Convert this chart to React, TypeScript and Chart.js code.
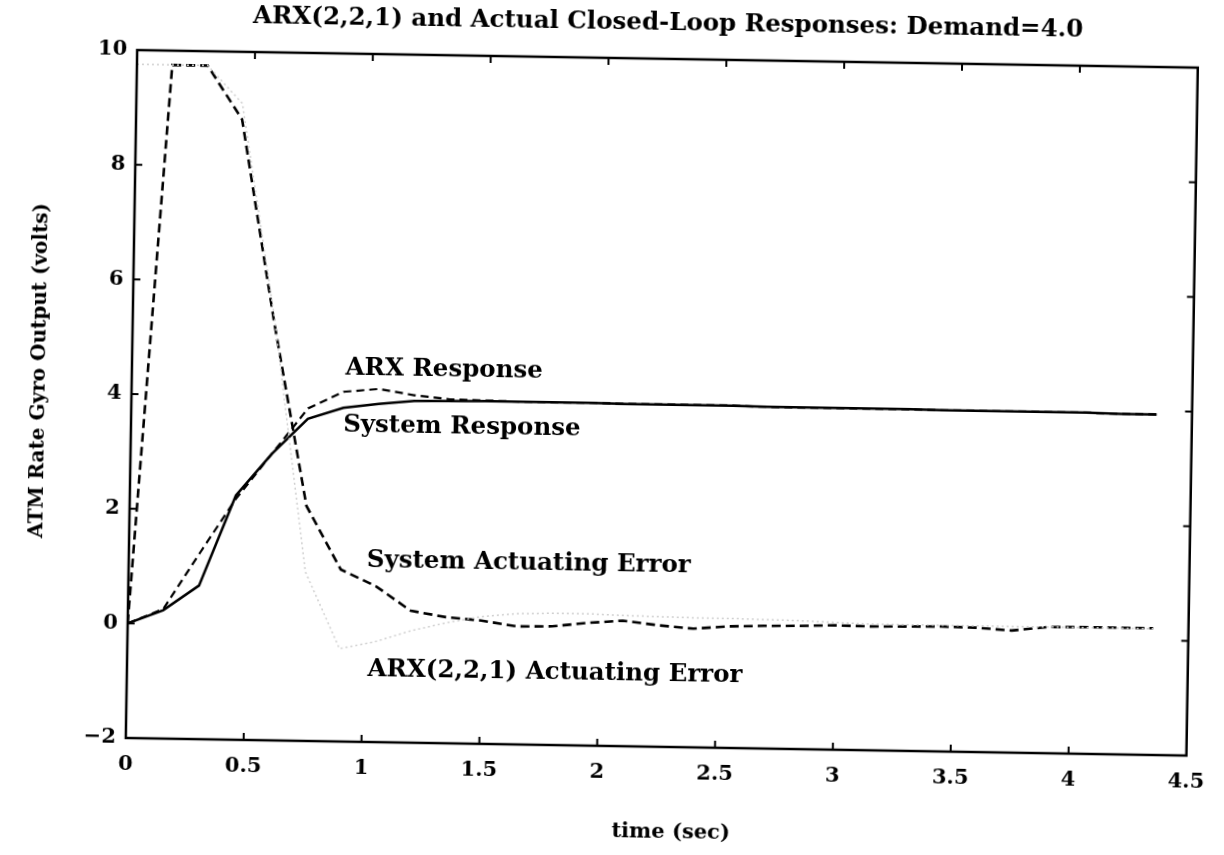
import React, { useEffect, useRef } from 'react';
import { Chart, registerables } from 'chart.js';

Chart.register(...registerables);

// ---- data ----
const time = [0, 0.15, 0.3, 0.45, 0.6, 0.75, 0.9, 1.05, 1.2, 1.35, 1.5, 1.65, 1.8, 1.95, 2.1, 2.25, 2.4, 2.55, 2.7, 2.85, 3.0, 3.15, 3.3, 3.45, 3.6, 3.75, 3.9, 4.05, 4.2, 4.35];

const systemResponse = [0, 0.24, 0.68, 2.26, 3.0, 3.62, 3.82, 3.9, 3.96, 3.97, 3.98, 3.98, 3.98, 3.98, 3.97, 3.97, 3.97, 3.97, 3.96, 3.96, 3.96, 3.96, 3.96, 3.95, 3.95, 3.95, 3.95, 3.95, 3.94, 3.94];

const arxResponse = [0, 0.26, 1.24, 2.2, 3.0, 3.8, 4.1, 4.16, 4.06, 4.0, 3.99, 3.98, 3.98, 3.98, 3.97, 3.97, 3.97, 3.97, 3.96, 3.96, 3.96, 3.96, 3.96, 3.95, 3.95, 3.95, 3.95, 3.95, 3.94, 3.94];

const systemError = [0, 9.75, 9.75, 8.82, 5.3, 2.1, 1.0, 0.72, 0.3, 0.2, 0.15, 0.06, 0.07, 0.14, 0.19, 0.12, 0.07, 0.12, 0.14, 0.15, 0.17, 0.16, 0.17, 0.18, 0.17, 0.13, 0.2, 0.21, 0.21, 0.21];

const arxError = [9.75, 9.75, 9.75, 9.1, 5.4, 0.95, -0.38, -0.25, -0.05, 0.1, 0.22, 0.28, 0.3, 0.3, 0.28, 0.27, 0.26, 0.26, 0.25, 0.24, 0.22, 0.2, 0.2, 0.2, 0.2, 0.2, 0.2, 0.2, 0.2, 0.2];

const xTickValues = [0, 0.5, 1, 1.5, 2, 2.5, 3, 3.5, 4, 4.5];
const yTickValues = [-2, 0, 2, 4, 6, 8, 10];

const seriesNames = ['ARX(2,2,1) Actuating Error', 'System Actuating Error', 'ARX Response', 'System Response'];

const titleText = 'ARX(2,2,1) and Actual Closed-Loop Responses: Demand=4.0';
const xTitleText = 'time (sec)';
const yTitleText = 'ATM Rate Gyro Output (volts)';

// in-plot labels (text) and their anchor points (data coordinates, left-middle)
const labelTexts = ['ARX Response', 'System Response', 'System Actuating Error', 'ARX(2,2,1) Actuating Error'];
const labelAnchors = [
  { x: 0.906, y: 4.52 },
  { x: 0.9, y: 3.51 },
  { x: 1.01, y: 1.17 },
  { x: 1.02, y: -0.74 },
];

const FONT = '"DejaVu Serif", serif';

const pts = (ys: number[]) => ys.map((y, i) => ({ x: time[i], y }));

const decorPlugin = {
  id: 'decor',
  afterDraw(chart: any) {
    const { ctx, chartArea: a, scales } = chart;
    const xs = scales.x;
    const ys = scales.y;
    ctx.save();
    ctx.strokeStyle = '#000';
    ctx.lineCap = 'butt';
    // frame
    ctx.lineWidth = 2.5;
    ctx.strokeRect(a.left, a.top, a.right - a.left, a.bottom - a.top);
    // inward ticks
    const tl = 7;
    ctx.lineWidth = 2;
    const seg = (x1: number, y1: number, x2: number, y2: number) => {
      ctx.beginPath();
      ctx.moveTo(x1, y1);
      ctx.lineTo(x2, y2);
      ctx.stroke();
    };
    xTickValues.forEach((v) => {
      const px = xs.getPixelForValue(v);
      if (px <= a.left + 2 || px >= a.right - 2) return;
      seg(px, a.bottom, px, a.bottom - tl);
      seg(px, a.top, px, a.top + tl);
    });
    yTickValues.forEach((v) => {
      const py = ys.getPixelForValue(v);
      if (py <= a.top + 2 || py >= a.bottom - 2) return;
      seg(a.left, py, a.left + tl, py);
      seg(a.right, py, a.right - tl, py);
    });
    // texts
    ctx.fillStyle = '#000';
    ctx.textBaseline = 'middle';
    ctx.textAlign = 'center';
    ctx.font = `bold 24.5px ${FONT}`;
    ctx.fillText(titleText, (a.left + a.right) / 2, 23);
    ctx.font = `bold 21px ${FONT}`;
    ctx.fillText(xTitleText, (a.left + a.right) / 2 + 16, 832);
    ctx.save();
    ctx.translate(39, 380);
    ctx.rotate(-Math.PI / 2);
    ctx.font = `bold 20px ${FONT}`;
    ctx.fillText(yTitleText, 0, 0);
    ctx.restore();
    ctx.textAlign = 'left';
    ctx.font = `bold 24.5px ${FONT}`;
    labelTexts.forEach((t, i) => {
      const p = labelAnchors[i];
      ctx.fillText(t, xs.getPixelForValue(p.x), ys.getPixelForValue(p.y));
    });
    ctx.restore();
  },
};

export default function App() {
  const ref = useRef<HTMLCanvasElement | null>(null);
  useEffect(() => {
    if (!ref.current) return;
    const tickFont = { family: FONT, size: 21, weight: 'bold' as const };
    const chart = new Chart(ref.current, {
      type: 'line',
      data: {
        datasets: [
          {
            label: seriesNames[0],
            data: pts(arxError),
            borderColor: '#cfcfcf',
            borderWidth: 1.5,
            borderDash: [2, 3],
            pointRadius: 0,
            tension: 0,
          },
          {
            label: seriesNames[1],
            data: pts(systemError),
            borderColor: '#000',
            borderWidth: 2.6,
            borderDash: [9, 5],
            pointRadius: 0,
            tension: 0,
          },
          {
            label: seriesNames[2],
            data: pts(arxResponse),
            borderColor: '#000',
            borderWidth: 2.2,
            borderDash: [8, 5],
            pointRadius: 0,
            tension: 0,
          },
          {
            label: seriesNames[3],
            data: pts(systemResponse),
            borderColor: '#000',
            borderWidth: 2.5,
            pointRadius: 0,
            tension: 0,
          },
        ],
      },
      options: {
        animation: false,
        responsive: false,
        devicePixelRatio: 1,
        layout: { padding: { top: 58, right: 26, left: 0, bottom: 0 } },
        plugins: {
          legend: { display: false },
          title: { display: false },
          tooltip: { enabled: false },
        },
        scales: {
          x: {
            type: 'linear',
            min: 0,
            max: 4.5,
            grid: { display: false, drawTicks: false },
            border: { display: false },
            afterBuildTicks: (s: any) => {
              s.ticks = xTickValues.map((v) => ({ value: v }));
            },
            afterFit: (s: any) => {
              s.height = 109;
            },
            ticks: {
              color: '#000',
              font: tickFont,
              padding: 14,
              maxRotation: 0,
              autoSkip: false,
              callback: (v: any) => String(v),
            },
          },
          y: {
            type: 'linear',
            min: -2,
            max: 10,
            grid: { display: false, drawTicks: false },
            border: { display: false },
            afterBuildTicks: (s: any) => {
              s.ticks = yTickValues.map((v) => ({ value: v }));
            },
            afterFit: (s: any) => {
              s.width = 131;
            },
            ticks: {
              color: '#000',
              font: tickFont,
              padding: 10,
              autoSkip: false,
              callback: (v: any) => (Number(v) < 0 ? '\u2212' + String(Math.abs(Number(v))) : String(v)),
            },
          },
        },
      },
      plugins: [decorPlugin],
    });
    return () => chart.destroy();
  }, []);

  return (
    <div
      style={{
        position: 'absolute',
        left: 0,
        top: 0,
        width: 1224,
        height: 855,
        background: '#fff',
        transform: 'rotate(0.95deg)',
        transformOrigin: '50% 50%',
      }}
    >
      <canvas ref={ref} width={1224} height={855} style={{ display: 'block', width: 1224, height: 855 }} />
    </div>
  );
}
